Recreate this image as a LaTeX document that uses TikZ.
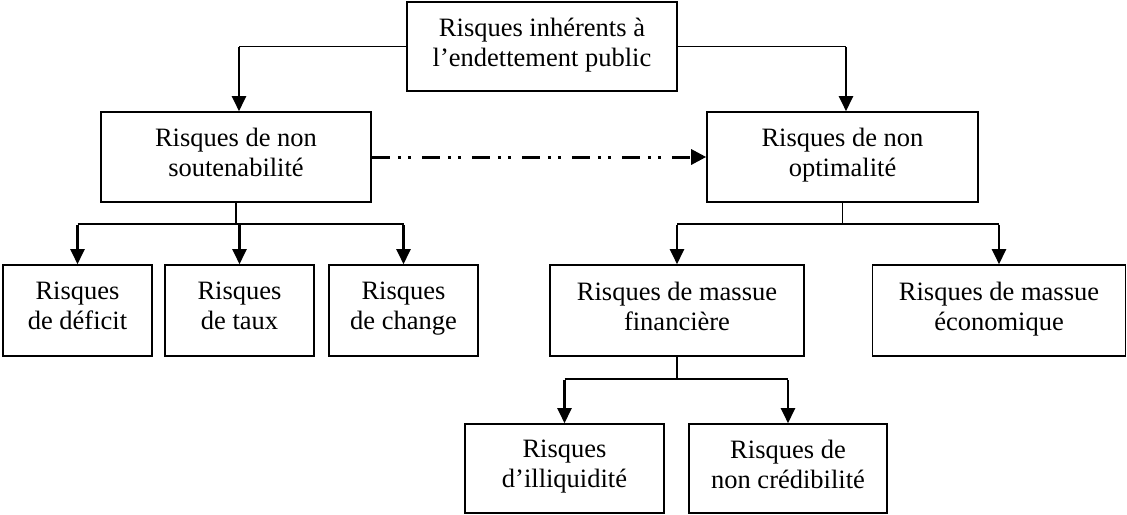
\documentclass[tikz,border=0pt]{standalone}
\usepackage{fontspec}
\setmainfont{Liberation Serif}
\usetikzlibrary{arrows.meta}
\begin{document}
\begin{tikzpicture}[x=1pt,y=-1pt,
  box/.style={draw, line width=1.6pt, rectangle, inner sep=0pt, align=center,
    font=\fontsize{26.5}{30}\selectfont,
    execute at begin node=\strut, execute at end node=\strut},
  thinline/.style={line width=1.2pt},
  thickline/.style={line width=2.3pt},
  arr/.style={line width=2.3pt, -{Triangle[length=15pt,width=14pt]}},
  dashdot/.style={line width=3pt, dash pattern=on 18pt off 8pt on 3pt off 7pt on 3pt off 11pt,
    -{Triangle[length=15pt,width=15pt]}}]
\useasboundingbox (0,0) rectangle (1127,514);
% nodes
\node[box, minimum width=270pt, minimum height=89pt] (top) at (542,46.5) {Risques inhérents à\\l’endettement public};
\node[box, minimum width=270pt, minimum height=90pt] (L) at (236,157) {Risques de non\\soutenabilité};
\node[box, minimum width=271pt, minimum height=90pt] (R) at (842.5,157) {Risques de non\\optimalité};
\node[box, minimum width=149pt, minimum height=91pt] (def) at (77.5,310.5) {Risques\\de déficit};
\node[box, minimum width=149pt, minimum height=91pt] (taux) at (239.5,310.5) {Risques\\de taux};
\node[box, minimum width=149pt, minimum height=91pt] (chg) at (403.5,310.5) {Risques\\de change};
\node[box, minimum width=254pt, minimum height=91pt] (fin) at (677,310.5) {Risques de massue\\financière};
\node[box, minimum width=253pt, minimum height=91pt] (eco) at (999,310.5) {Risques de massue\\économique};
\node[box, minimum width=199pt, minimum height=89pt] (ill) at (564.5,468.5) {Risques\\d’illiquidité};
\node[box, minimum width=198pt, minimum height=89pt] (cred) at (788,468.5) {Risques de\\non crédibilité};
% top connectors
\coordinate (tl) at ([xshift=3pt]L.north |- top.west);
\coordinate (tr) at ([xshift=3.5pt]R.north |- top.east);
\draw[thinline] (top.west) -- (tl);
\draw[arr] ([yshift=-0.6pt]tl) -- (tl |- L.north);
\draw[thinline] (top.east) -- (tr);
\draw[arr] ([yshift=-0.6pt]tr) -- (tr |- R.north);
% dash-dot
\draw[dashdot] (L.east) -- (R.west);
% left group
\coordinate (ls) at (236,224);
\coordinate (lsa) at (def.north |- ls);
\coordinate (lsc) at (chg.north |- ls);
\coordinate (lsb) at (taux.north |- ls);
\draw[thickline] (L.south) -- (ls);
\draw[thickline] (lsa) -- (lsc);
\draw[arr] ([yshift=-1.15pt]lsa) -- (def.north);
\draw[arr] (lsb) -- (taux.north);
\draw[arr] ([yshift=-1.15pt]lsc) -- (chg.north);
% right group
\coordinate (rs) at (R.south |- ls);
\coordinate (rsa) at (fin.north |- ls);
\coordinate (rsb) at (eco.north |- ls);
\draw[thinline] (R.south) -- (rs);
\draw[thinline] (rsa) -- (rsb);
\draw[arr] ([yshift=-0.6pt]rsa) -- (fin.north);
\draw[arr] ([yshift=-0.6pt]rsb) -- (eco.north);
% financial group
\coordinate (fs) at (677,379);
\coordinate (fsa) at (ill.north |- fs);
\coordinate (fsb) at (cred.north |- fs);
\draw[thinline] (fin.south) -- (fs);
\draw[thickline] (fsa) -- (fsb);
\draw[arr] ([yshift=-1.15pt]fsa) -- (ill.north);
\draw[arr] ([yshift=-1.15pt]fsb) -- (cred.north);
\end{tikzpicture}
\end{document}
